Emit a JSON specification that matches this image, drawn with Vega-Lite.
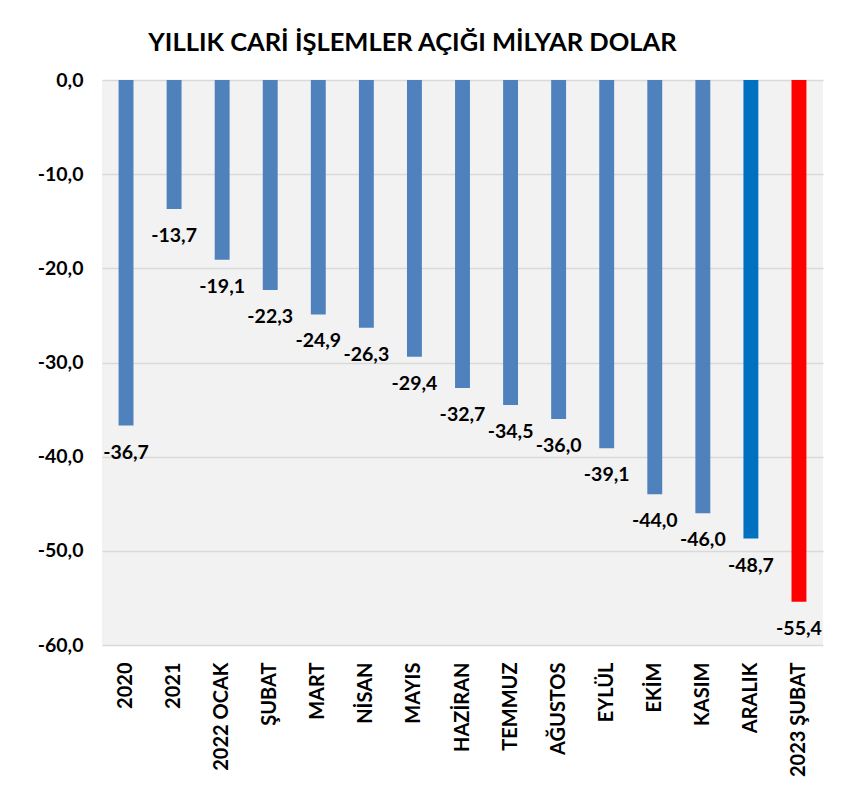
{
  "$schema": "https://vega.github.io/schema/vega-lite/v6.json",
  "width": 721,
  "height": 565,
  "autosize": {"type": "none"},
  "padding": {"left": 102, "top": 80, "right": 37, "bottom": 154},
  "background": "white",
  "config": {
    "locale": {"number": {"decimal": ",", "thousands": ".", "grouping": [3], "currency": ["", ""], "minus": "-"}},
    "font": "Lato",
    "view": {"fill": "#F2F2F2", "stroke": null}
  },
  "title": {
    "text": "YILLIK CARİ İŞLEMLER AÇIĞI MİLYAR DOLAR",
    "anchor": "middle",
    "dx": -50,
    "offset": 14,
    "fontSize": 25.5,
    "fontWeight": "bold",
    "font": "Lato",
    "color": "#000000"
  },
  "data": {
    "values": [
      {"label": "2020", "value": -36.7},
      {"label": "2021", "value": -13.7},
      {"label": "2022 OCAK", "value": -19.1},
      {"label": "ŞUBAT", "value": -22.3},
      {"label": "MART", "value": -24.9},
      {"label": "NİSAN", "value": -26.3},
      {"label": "MAYIS", "value": -29.4},
      {"label": "HAZİRAN", "value": -32.7},
      {"label": "TEMMUZ", "value": -34.5},
      {"label": "AĞUSTOS", "value": -36.0},
      {"label": "EYLÜL", "value": -39.1},
      {"label": "EKİM", "value": -44.0},
      {"label": "KASIM", "value": -46.0},
      {"label": "ARALIK", "value": -48.7},
      {"label": "2023 ŞUBAT", "value": -55.4}
    ]
  },
  "encoding": {
    "x": {
      "field": "label",
      "type": "nominal",
      "sort": null,
      "scale": {"paddingInner": 0.69, "paddingOuter": 0.345},
      "axis": {
        "title": null,
        "labelAngle": -90,
        "labelAlign": "right",
        "labelBaseline": "middle",
        "labelPadding": 17,
        "labelFontSize": 20,
        "labelFontWeight": "bold",
        "labelColor": "#000000",
        "ticks": false,
        "domain": false,
        "grid": false
      }
    },
    "y": {
      "field": "value",
      "type": "quantitative",
      "scale": {"domain": [-60, 0], "nice": false},
      "axis": {
        "title": null,
        "values": [0, -10, -20, -30, -40, -50, -60],
        "format": ".1f",
        "labelPadding": 19,
        "labelFontSize": 19.5,
        "labelFontWeight": "bold",
        "labelColor": "#000000",
        "ticks": false,
        "domain": false,
        "grid": true,
        "gridColor": "#D9D9D9",
        "gridWidth": 1.5
      }
    }
  },
  "layer": [
    {
      "mark": {"type": "bar"},
      "encoding": {
        "color": {
          "condition": [
            {"test": "datum.label === 'ARALIK'", "value": "#0070C0"},
            {"test": "datum.label === '2023 ŞUBAT'", "value": "#FF0000"}
          ],
          "value": "#4F81BD"
        }
      }
    },
    {
      "mark": {"type": "text", "dy": 27, "baseline": "middle", "align": "center", "fontSize": 19.5, "fontWeight": "bold", "color": "#000000"},
      "encoding": {
        "text": {"field": "value", "type": "quantitative", "format": ".1f"}
      }
    }
  ]
}
